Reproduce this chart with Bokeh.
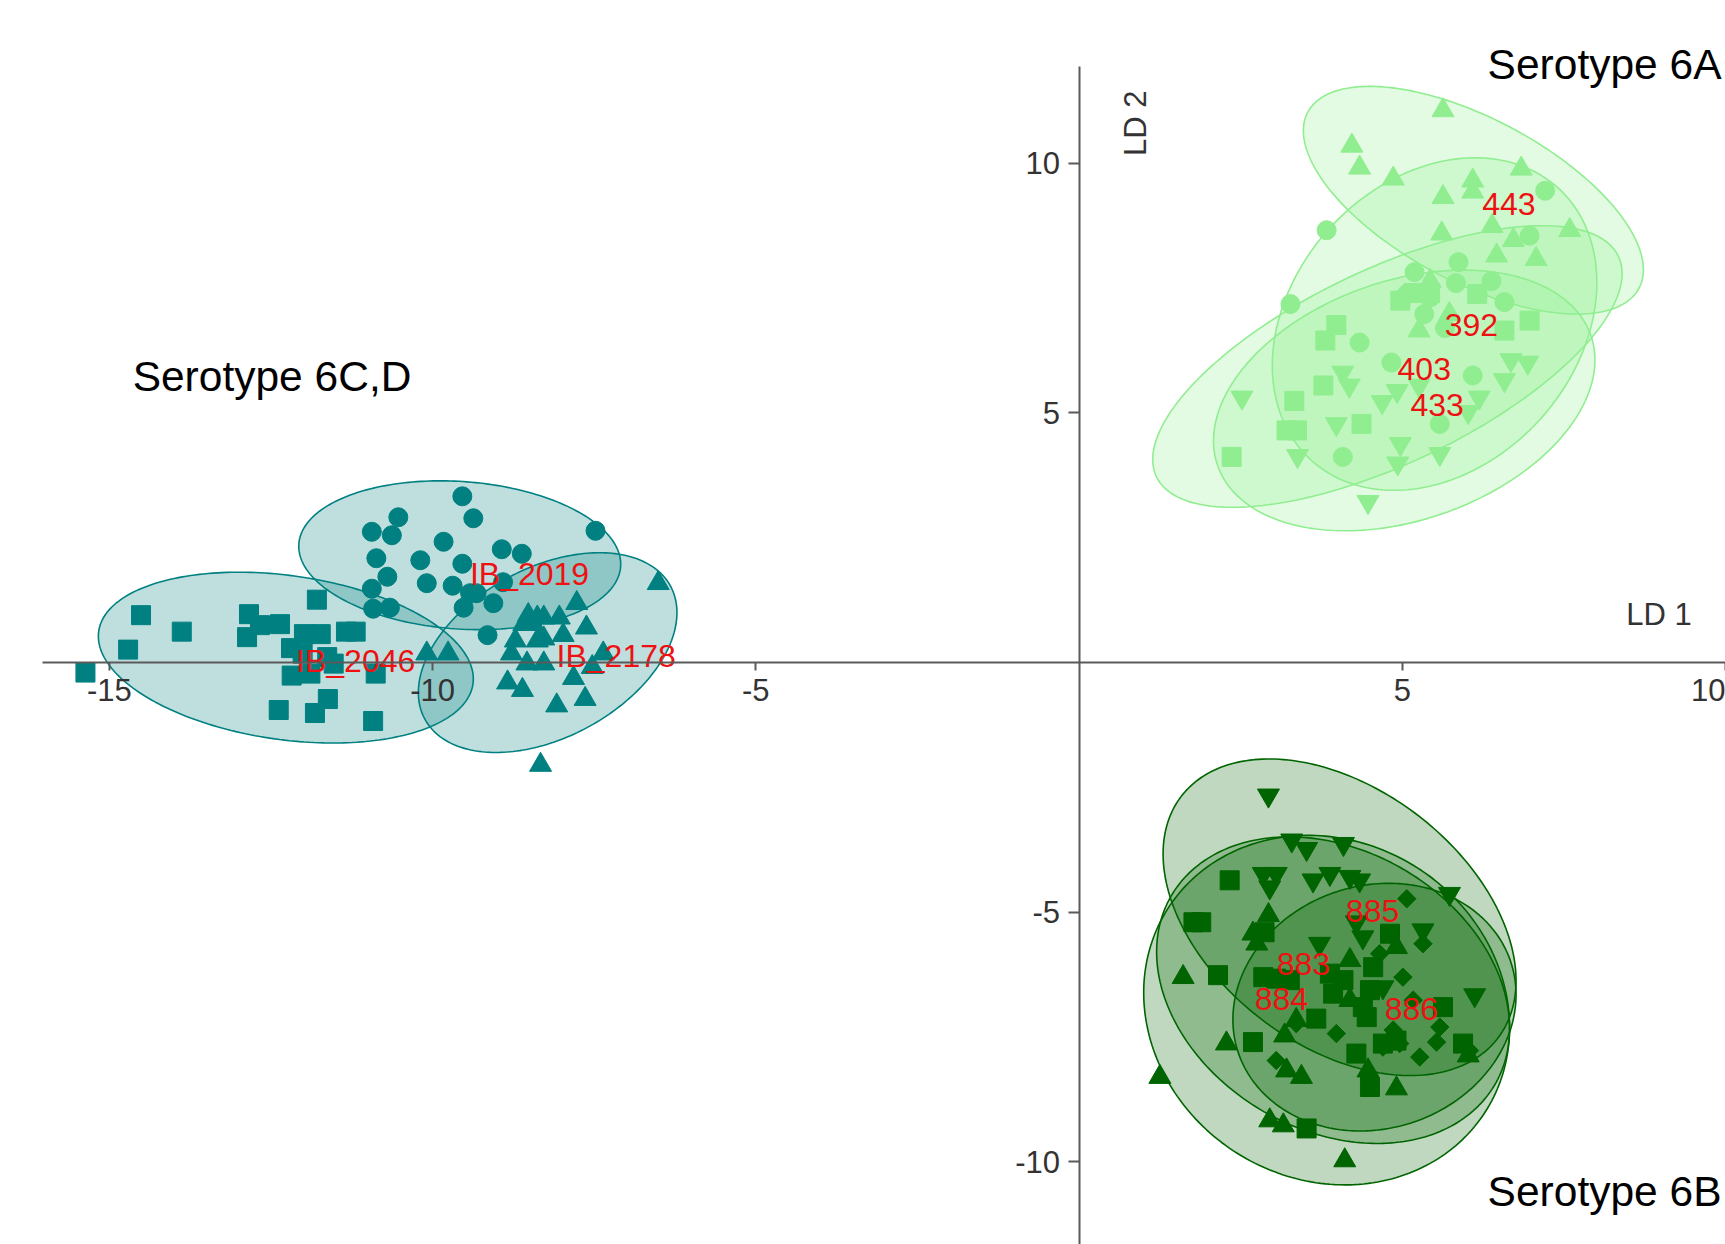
import numpy as np
from bokeh.plotting import figure
from bokeh.models import LinearAxis, FixedTicker, Label, ColumnDataSource, Range1d
from bokeh.embed import file_html
from bokeh.resources import INLINE
from bokeh.core.properties import value

TEAL = "#008080"
LIGHT = "#90EE90"
DARK = "#006400"
FONT = "Liberation Sans"

# ---------------- data ----------------
x_ticks = [-15, -10, -5, 5, 10]
y_ticks = [-10, -5, 5, 10]

# Serotype 6C,D
cd_sq_x = [-15.37, -14.71, -14.51, -13.88, -12.84, -12.87, -12.67, -12.36, -11.99, -11.73, -11.79, -11.34,
           -11.19, -12.19, -12.01, -11.63, -11.53, -12.18, -11.89, -10.88, -11.62, -11.82, -12.38, -10.92]
cd_sq_y = [-0.20, 0.26, 0.95, 0.62, 0.97, 0.51, 0.75, 0.77, 0.57, 0.57, 1.26, 0.62,
           0.62, 0.29, 0.18, 0.11, -0.02, -0.26, -0.22, -0.22, -0.73, -1.01, -0.95, -1.17]
cd_ci_x = [-9.54, -10.53, -10.94, -10.63, -9.83, -9.37, -10.87, -10.19, -9.54, -10.70, -10.94, -10.09,
           -9.69, -10.92, -10.66, -9.52, -9.42, -7.48, -8.93, -8.62, -9.06, -9.15, -8.91, -9.32]
cd_ci_y = [3.33, 2.91, 2.62, 2.55, 2.42, 2.89, 2.09, 2.05, 1.98, 1.72, 1.48, 1.59,
           1.54, 1.08, 1.10, 1.10, 1.39, 2.64, 2.27, 2.18, 1.19, 0.55, 1.61, 1.39]
cd_tr_x = [-6.51, -7.77, -7.62, -8.04, -8.52, -8.38, -8.28, -8.59, -8.44, -8.72, -8.38, -8.28, -7.98,
           -8.78, -8.54, -8.28, -7.36, -7.53, -8.84, -8.61, -7.82, -8.08, -7.64, -8.33, -9.76, -10.09]
cd_tr_y = [1.59, 1.19, 0.70, 0.90, 0.95, 0.90, 0.90, 0.77, 0.77, 0.44, 0.44, 0.48, 0.55,
           0.18, -0.02, -0.02, 0.18, -0.09, -0.40, -0.55, -0.31, -0.86, -0.73, -2.05, 0.18, 0.18]

# Serotype 6A
a_tr_x = [5.63, 4.22, 4.34, 4.86, 6.09, 6.09, 6.84, 5.63, 5.61, 6.39, 7.59, 6.72, 6.46, 7.07, 5.43, 5.73, 5.26]
a_tr_y = [11.06, 10.35, 9.91, 9.69, 9.65, 9.43, 9.89, 9.32, 8.59, 8.74, 8.66, 8.46, 8.15, 8.08, 7.64, 6.98, 6.65]
a_ci_x = [3.83, 3.27, 5.19, 4.34, 4.83, 5.07, 7.21, 6.97, 5.87, 6.38, 6.58, 5.66, 5.83, 6.09, 4.08, 5.58, 5.43, 5.34]
a_ci_y = [8.66, 7.18, 7.82, 6.41, 6.01, 7.38, 9.45, 8.55, 8.02, 7.64, 7.22, 6.70, 7.60, 5.75, 4.12, 4.78, 7.31, 6.98]
a_sq_x = [3.98, 3.81, 4.97, 5.17, 5.43, 3.78, 3.33, 4.37, 3.21, 3.37, 2.36, 6.97, 6.58, 6.16]
a_sq_y = [6.76, 6.45, 7.25, 7.40, 7.40, 5.55, 5.24, 4.78, 4.65, 4.65, 4.12, 6.85, 6.65, 7.38]
a_it_x = [2.52, 4.08, 4.18, 3.98, 3.38, 4.69, 4.97, 4.93, 4.47, 5.58, 4.92, 6.68, 6.94, 6.58, 6.19, 6.02, 5.26]
a_it_y = [5.31, 5.81, 5.55, 4.78, 4.14, 5.22, 4.38, 3.99, 3.22, 4.18, 5.44, 6.06, 6.01, 5.66, 5.31, 5.02, 5.55]

# Serotype 6B
b_it_x = [2.93, 3.29, 3.52, 4.09, 2.85, 3.05, 2.95, 3.62, 3.88, 4.19, 4.34, 5.73, 5.32, 4.39, 3.72, 6.12, 4.29, 4.70]
b_it_y = [-2.66, -3.56, -3.73, -3.63, -4.23, -4.23, -4.50, -4.36, -4.23, -4.29, -4.36, -4.63, -5.36, -5.50,
          -5.63, -6.66, -5.20, -6.50]
b_sq_x = [2.33, 1.77, 1.89, 2.15, 2.85, 3.05, 2.87, 2.69, 3.52, 3.67, 3.88, 3.93, 4.09, 4.50, 4.29, 4.55,
          4.81, 5.63, 5.94, 4.45, 4.70, 4.91, 4.50, 4.39, 3.26]
b_sq_y = [-4.36, -5.20, -5.20, -6.26, -6.30, -6.33, -5.40, -7.60, -9.33, -7.13, -6.23, -6.63, -6.36, -8.50,
          -7.83, -6.10, -5.43, -6.90, -7.63, -7.10, -7.63, -7.57, -6.56, -6.90, -6.36]
b_tr_x = [1.25, 1.61, 2.28, 2.93, 2.69, 2.75, 3.18, 3.21, 3.44, 2.95, 3.16, 4.11, 4.47, 4.91, 4.19, 6.02,
          4.91, 4.19, 3.36]
b_tr_y = [-8.30, -6.30, -7.63, -5.06, -5.43, -5.63, -7.47, -8.17, -8.30, -9.17, -9.27, -9.97, -8.17, -8.53,
          -5.96, -7.87, -5.70, -6.76, -7.16]
b_di_x = [5.07, 5.32, 5.01, 3.98, 3.05, 4.86, 5.27, 5.53, 5.58, 4.70, 4.96, 3.36, 4.65, 6.04, 5.17]
b_di_y = [-4.73, -5.63, -6.30, -7.43, -7.97, -7.36, -7.90, -7.60, -7.30, -7.70, -7.63, -7.23, -5.83, -7.77, -6.76]

# group ellipses: centre, half-extent in x and y, correlation
ell_cx = [-12.27, -9.58, -8.22, 6.10, 5.50, 4.77, 5.03, 4.03, 3.93, 3.83, 4.57]
ell_cy = [0.10, 2.15, 0.20, 9.26, 6.78, 5.93, 5.25, -5.10, -6.56, -6.96, -6.90]
ell_rx = [2.90, 2.49, 2.00, 2.63, 2.51, 3.63, 2.95, 2.73, 2.73, 2.83, 2.19]
ell_ry = [1.71, 1.49, 2.00, 2.28, 3.33, 2.82, 2.61, 3.17, 3.07, 3.50, 2.48]
ell_rho = [-0.25, -0.12, 0.40, -0.61, 0.25, 0.66, 0.31, -0.40, -0.25, -0.10, 0.10]
ell_col = [TEAL] * 3 + [LIGHT] * 4 + [DARK] * 4

# group labels
lab_text = ["IB_2019", "IB_2046", "IB_2178", "443", "392", "403", "433", "885", "883", "884", "886"]
lab_x = [-8.50, -11.19, -7.16, 6.65, 6.07, 5.34, 5.54, 4.54, 3.47, 3.13, 5.14]
lab_y = [1.78, 0.04, 0.13, 9.19, 6.76, 5.88, 5.15, -4.98, -6.04, -6.74, -6.94]

sero_text = ["Serotype 6A", "Serotype 6B", "Serotype 6C,D"]
sero_x = [6.32, 6.32, -14.64]
sero_y = [11.98, -10.59, 5.73]

# ---------------- figure ----------------
p = figure(width=1725, height=1244,
           x_range=Range1d(-16.684, 10.0), y_range=Range1d(-11.654, 13.26),
           output_backend="svg", toolbar_location=None,
           x_axis_location=None, y_axis_location=None,
           min_border_left=0, min_border_right=0, min_border_top=0, min_border_bottom=0)
p.outline_line_color = None
p.grid.grid_line_color = None
p.background_fill_color = "white"

xaxis = LinearAxis(fixed_location=0, ticker=FixedTicker(ticks=x_ticks), bounds=(-16.03, 10.0))
yaxis = LinearAxis(fixed_location=0, ticker=FixedTicker(ticks=y_ticks), bounds=(-11.654, 11.94))
for ax, ticks in ((xaxis, x_ticks), (yaxis, y_ticks)):
    ax.axis_line_color = "#5a5a5a"
    ax.axis_line_width = 2
    ax.major_tick_line_color = "#5a5a5a"
    ax.major_tick_line_width = 2
    ax.major_tick_in = 0
    ax.minor_tick_in = 0
    ax.minor_tick_out = 0
    ax.major_label_text_font = FONT
    ax.major_label_text_font_size = "31px"
    ax.major_label_text_color = "#333333"
    ax.major_label_overrides = {t: str(t) for t in ticks}
xaxis.major_tick_out = 8
xaxis.major_label_standoff = 8
yaxis.major_tick_out = 11
yaxis.major_label_standoff = 8
p.add_layout(xaxis, "below")
p.add_layout(yaxis, "left")

# ellipses
t = np.linspace(0, 2 * np.pi, 240)
for cx, cy, rx, ry, rho, col in zip(ell_cx, ell_cy, ell_rx, ell_ry, ell_rho, ell_col):
    ex = cx + rx * np.cos(t)
    ey = cy + ry * (rho * np.cos(t) + np.sqrt(1 - rho ** 2) * np.sin(t))
    p.patch(ex, ey, fill_color=col, fill_alpha=0.25, line_color=col, line_width=1.6)

# points
groups = [
    (cd_sq_x, cd_sq_y, "square", 19, 0.0, TEAL),
    (cd_ci_x, cd_ci_y, "circle", 19, 0.0, TEAL),
    (cd_tr_x, cd_tr_y, "triangle", 22, 0.0, TEAL),
    (a_tr_x, a_tr_y, "triangle", 22, 0.0, LIGHT),
    (a_ci_x, a_ci_y, "circle", 19, 0.0, LIGHT),
    (a_sq_x, a_sq_y, "square", 19, 0.0, LIGHT),
    (a_it_x, a_it_y, "inverted_triangle", 22, 0.0, LIGHT),
    (b_it_x, b_it_y, "inverted_triangle", 22, 0.0, DARK),
    (b_sq_x, b_sq_y, "square", 19, 0.0, DARK),
    (b_tr_x, b_tr_y, "triangle", 22, 0.0, DARK),
    (b_di_x, b_di_y, "square", 13, np.pi / 4, DARK),
]
for gx, gy, mk, sz, ang, col in groups:
    p.scatter(gx, gy, marker=mk, size=sz, angle=ang, fill_color=col, line_color=col, line_width=1)

# group labels
src = ColumnDataSource(dict(x=lab_x, y=lab_y, text=lab_text))
p.text(x="x", y="y", text="text", source=src, text_color="#ee1111",
       text_font=value(FONT), text_font_size="32px", text_align="center", text_baseline="middle")

# serotype titles
for tx, xx, yy in zip(sero_text, sero_x, sero_y):
    p.add_layout(Label(x=xx, y=yy, text=tx, text_font=FONT, text_font_size="42.5px",
                       text_color="black", text_align="left", text_baseline="middle"))

# axis titles
p.add_layout(Label(x=8.97, y=0.97, text="LD 1", text_font=FONT, text_font_size="31px",
                   text_color="#333333", text_align="center", text_baseline="middle"))
p.add_layout(Label(x=0.88, y=10.80, text="LD 2", text_font=FONT, text_font_size="31px",
                   text_color="#333333", text_align="center", text_baseline="middle", angle=np.pi / 2))

open("out.html", "w").write(file_html(p, INLINE))
